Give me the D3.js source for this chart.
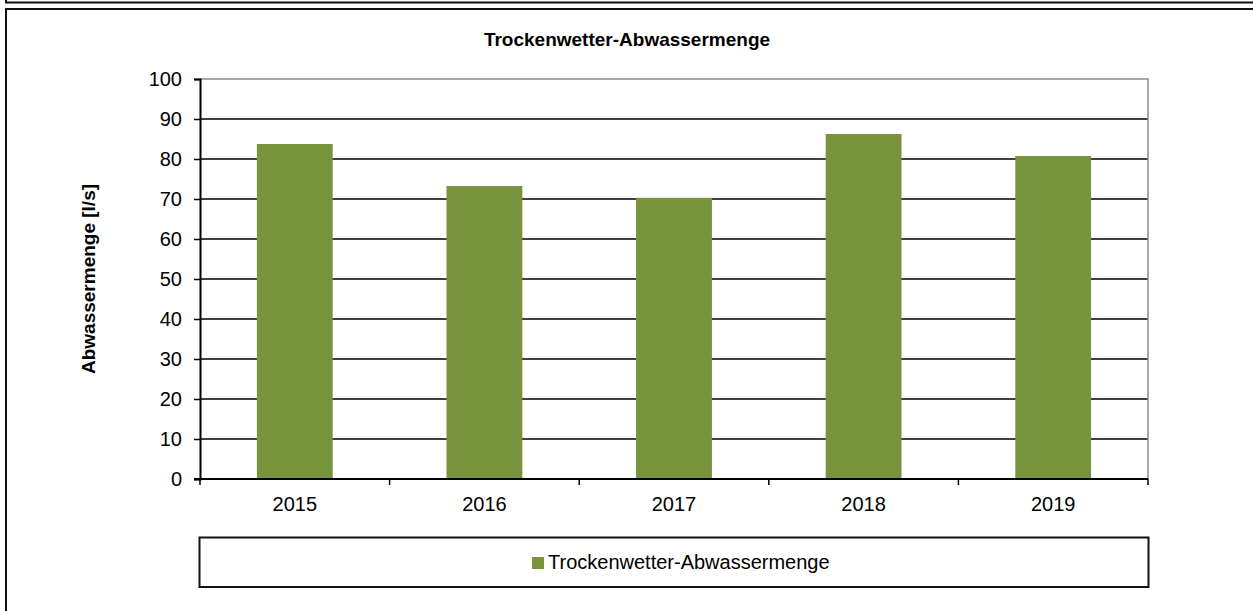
<!DOCTYPE html>
<html>
<head>
<meta charset="utf-8">
<script src="https://cdn.jsdelivr.net/npm/d3@7"></script>
<style>
  body { margin: 0; background: #fff; }
  svg { display: block; font-family: "Liberation Sans", Arial, sans-serif; }
</style>
</head>
<body>
<div id="chart"></div>
<script>
// values
const years = ["2015", "2016", "2017", "2018", "2019"]
const flow = [83.75, 73.25, 70.3, 86.25, 80.75]
const yTicks = [0, 10, 20, 30, 40, 50, 60, 70, 80, 90, 100]
const seriesName = "Trockenwetter-Abwassermenge"
const chartTitle = "Trockenwetter-Abwassermenge"
const yTitle = "Abwassermenge [l/s]"

const W = 1253, H = 611
const plot = { left: 200, right: 1148, top: 79, bottom: 479 }
const green = "#77933C"

const svg = d3.select("#chart").append("svg")
    .attr("width", W)
    .attr("height", H)

// outer frames
svg.append("line").attr("x1", 5).attr("x2", W).attr("y1", 2.5).attr("y2", 2.5)
    .attr("stroke", "#111").attr("stroke-width", 2)
svg.append("line").attr("x1", 6).attr("x2", 6).attr("y1", 0).attr("y2", 3)
    .attr("stroke", "#111").attr("stroke-width", 2)
svg.append("line").attr("x1", 5).attr("x2", W).attr("y1", 9).attr("y2", 9)
    .attr("stroke", "#111").attr("stroke-width", 2)
svg.append("line").attr("x1", 6).attr("x2", 6).attr("y1", 8).attr("y2", H)
    .attr("stroke", "#111").attr("stroke-width", 2)

const x = d3.scaleBand()
    .domain(years)
    .range([plot.left, plot.right])
    .paddingInner(0.6)
    .paddingOuter(0.3)

const xb = d3.scaleBand().domain(years).range([plot.left, plot.right])

const y = d3.scaleLinear()
    .domain([0, 100])
    .range([plot.bottom, plot.top])

// gridlines
svg.append("g")
    .selectAll("line")
    .data(yTicks.filter(d => d > 0 && d < 100))
    .join("line")
    .attr("x1", plot.left).attr("x2", plot.right)
    .attr("y1", d => y(d)).attr("y2", d => y(d))
    .attr("stroke", "#000").attr("stroke-width", 1.4)

// plot border (top + right, grey)
svg.append("path")
    .attr("d", `M${plot.left},${y(100)}H${plot.right}V${plot.bottom}`)
    .attr("fill", "none").attr("stroke", "#8c8c8c").attr("stroke-width", 1.5)

// bars
svg.append("g")
    .selectAll("rect")
    .data(years.map((yr, i) => ({ yr, v: flow[i] })))
    .join("rect")
    .attr("x", d => x(d.yr))
    .attr("width", x.bandwidth())
    .attr("y", d => y(d.v))
    .attr("height", d => y(0) - y(d.v))
    .attr("fill", green)

// y axis
const yAxis = svg.append("g")
    .attr("transform", `translate(${plot.left},0)`)
    .call(d3.axisLeft(y).tickValues(yTicks).tickSize(6).tickPadding(12))
yAxis.select(".domain").attr("stroke", "#000").attr("stroke-width", 2)
yAxis.selectAll(".tick line").attr("stroke", "#000").attr("stroke-width", 1.5)
yAxis.selectAll(".tick text").attr("font-size", 20).attr("fill", "#000")
    .attr("font-family", "Liberation Sans, Arial, sans-serif")

// x axis with boundary ticks
svg.append("line")
    .attr("x1", plot.left - 6).attr("x2", plot.right)
    .attr("y1", plot.bottom).attr("y2", plot.bottom)
    .attr("stroke", "#000").attr("stroke-width", 2)
const bounds = years.map(d => xb(d)).concat([plot.right])
svg.append("g").selectAll("line")
    .data(bounds)
    .join("line")
    .attr("x1", d => d).attr("x2", d => d)
    .attr("y1", plot.bottom).attr("y2", plot.bottom + 6)
    .attr("stroke", "#000").attr("stroke-width", 1.5)
svg.append("g").selectAll("text")
    .data(years)
    .join("text")
    .attr("x", d => xb(d) + xb.bandwidth() / 2)
    .attr("y", 511)
    .attr("text-anchor", "middle")
    .attr("font-size", 20)
    .text(d => d)

// title
svg.append("text")
    .attr("x", 627).attr("y", 46)
    .attr("text-anchor", "middle")
    .attr("font-size", 19)
    .attr("font-weight", "bold")
    .text(chartTitle)

// y title
svg.append("text")
    .attr("transform", `translate(95,${(plot.top + plot.bottom) / 2}) rotate(-90)`)
    .attr("text-anchor", "middle")
    .attr("font-size", 19)
    .attr("font-weight", "bold")
    .text(yTitle)

// legend
const leg = svg.append("g")
leg.append("rect")
    .attr("x", 199.5).attr("y", 537.5)
    .attr("width", 949).attr("height", 49.5)
    .attr("fill", "#fff").attr("stroke", "#111").attr("stroke-width", 2)
leg.append("rect")
    .attr("x", 532).attr("y", 557)
    .attr("width", 12).attr("height", 12)
    .attr("fill", green)
leg.append("text")
    .attr("x", 548).attr("y", 569)
    .attr("font-size", 20)
    .text(seriesName)
</script>
</body>
</html>
